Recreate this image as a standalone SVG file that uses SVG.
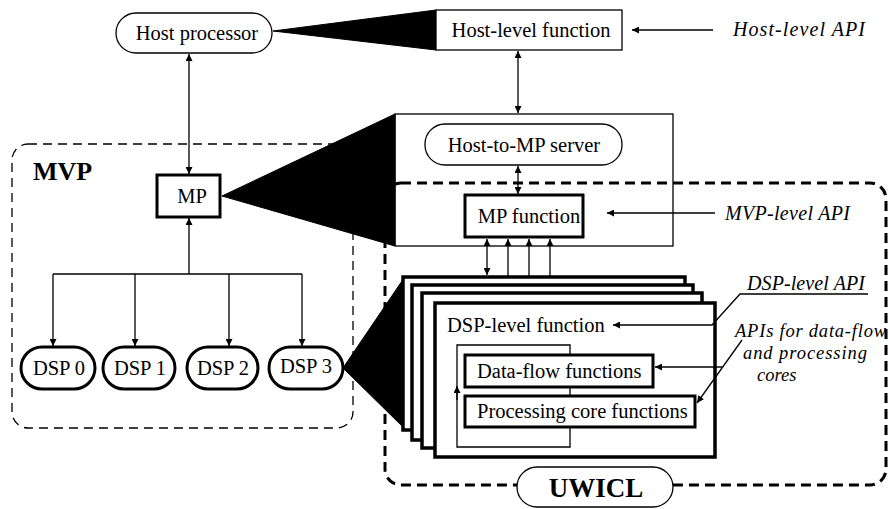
<svg xmlns="http://www.w3.org/2000/svg" width="889" height="509" viewBox="0 0 889 509">
<defs>
<marker id="ah" viewBox="0 0 10 10" refX="10" refY="5" markerWidth="9" markerHeight="7" markerUnits="userSpaceOnUse" orient="auto-start-reverse">
<path d="M0,0 L10,5 L0,10 z" fill="#000"/>
</marker>
<style>
text{font-family:"Liberation Serif","Times New Roman",serif;fill:#000}
.t{font-size:20.5px}
.c{text-anchor:middle}
.it{font-style:italic;font-size:20px}
.its{font-style:italic;font-size:18.5px}
.b{font-weight:bold;font-size:26px}
.thin{fill:#fff;stroke:#000;stroke-width:1.3}
.thick{fill:#fff;stroke:#000;stroke-width:3}
.stk{fill:#fff;stroke:#000;stroke-width:3.5}
.ln{fill:none;stroke:#000;stroke-width:1.3}
.lnh{fill:none;stroke:#000;stroke-width:1.3;marker-end:url(#ah)}
.lnd{fill:none;stroke:#000;stroke-width:1.3;marker-start:url(#ah);marker-end:url(#ah)}
.fan{fill:#000;stroke:#000;stroke-width:1}
</style>
</defs>

<g id="regions">
<rect id="uwicl-region" x="385" y="183" width="501" height="302" rx="16" fill="none" stroke="#000" stroke-width="3" stroke-dasharray="10 6"/>
<rect id="mvp-region" x="12" y="144" width="341" height="284" rx="16" fill="none" stroke="#000" stroke-width="1.3" stroke-dasharray="9 6"/>
</g>

<g id="expansions">
<polygon class="fan" points="273,31 436,10 436,50"/>
<polygon class="fan" points="222,196 395,114 395,246"/>
<polygon class="fan" points="343,368 404,278 406,430"/>
</g>

<g id="connectors">
<line class="lnd" x1="189" y1="54" x2="189" y2="174"/>
<line class="lnh" x1="189" y1="274" x2="189" y2="218"/>
<path class="ln" d="M53,274 H302"/>
<line class="lnh" x1="53" y1="274" x2="53" y2="346"/>
<line class="lnh" x1="135" y1="274" x2="135" y2="346"/>
<line class="lnh" x1="229" y1="274" x2="229" y2="346"/>
<line class="lnh" x1="302" y1="274" x2="302" y2="346"/>
<line class="lnd" x1="518" y1="51" x2="518" y2="113"/>
<line class="lnd" x1="518" y1="166" x2="518" y2="194"/>
<line class="lnh" x1="713" y1="30" x2="632" y2="30"/>
<line class="lnh" x1="715" y1="213" x2="607" y2="213"/>
<line class="lnd" x1="487" y1="239" x2="487" y2="275"/>
<line class="lnd" x1="508" y1="239" x2="508" y2="283"/>
<line class="lnd" x1="529" y1="239" x2="529" y2="291"/>
<line class="lnd" x1="550" y1="239" x2="550" y2="301"/>
</g>

<g id="host-processor">
<rect class="thin" x="116" y="13" width="156" height="40" rx="20"/>
<text class="t c" x="197" y="40">Host processor</text>
</g>

<g id="host-level-function">
<rect class="thin" x="436" y="10" width="186" height="40"/>
<text class="t c" x="531" y="37">Host-level function</text>
</g>
<text class="it" x="733" y="36" textLength="132" lengthAdjust="spacing">Host-level API</text>

<g id="mvp-label"><text class="b" x="33" y="180">MVP</text></g>

<g id="mp">
<rect class="thick" x="157" y="175" width="63" height="42"/>
<text class="t c" x="192" y="203">MP</text>
</g>

<g id="dsp0"><rect class="thick" x="21" y="347" width="74" height="42" rx="21"/><text class="t c" x="59" y="375">DSP 0</text></g>
<g id="dsp1"><rect class="thick" x="103" y="347" width="72" height="42" rx="21"/><text class="t c" x="140" y="375">DSP 1</text></g>
<g id="dsp2"><rect class="thick" x="187" y="347" width="71" height="42" rx="21"/><text class="t c" x="223" y="375">DSP 2</text></g>
<g id="dsp3"><rect class="thick" x="269" y="347" width="74" height="42" rx="21"/><text class="t c" x="306" y="373">DSP 3</text></g>

<g id="mp-software">
<rect x="395" y="114" width="278" height="132" fill="none" stroke="#000" stroke-width="1.3"/>
</g>

<g id="host-to-mp-server">
<rect class="thin" x="425" y="124" width="197" height="41" rx="20"/>
<text class="t c" x="524" y="152">Host-to-MP server</text>
</g>

<g id="mp-function">
<rect class="thick" x="465" y="195" width="118" height="42"/>
<text class="t c" x="529" y="223">MP function</text>
</g>
<text class="it" x="725" y="220" textLength="125" lengthAdjust="spacing">MVP-level API</text>

<g id="dsp-stack">
<rect class="stk" x="403" y="277" width="282" height="153"/>
<rect class="stk" x="412" y="285" width="281" height="155"/>
<rect class="stk" x="422" y="293" width="280" height="155"/>
<rect class="stk" x="435" y="303" width="280" height="154"/>
</g>

<g id="dsp-level-function">
<text class="t" x="447" y="332">DSP-level function</text>
<path class="ln" d="M570,447 H457 V345 H570 Z"/>
<line class="lnh" x1="457" y1="400" x2="457" y2="386"/>
</g>

<g id="data-flow-functions">
<rect class="thick" x="465" y="355" width="188" height="32"/>
<text class="t" x="477" y="378">Data-flow functions</text>
</g>

<g id="processing-core-functions">
<rect class="thick" x="465" y="396" width="230" height="31"/>
<text class="t" x="477" y="418">Processing core functions</text>
</g>

<g id="api-leaders">
<path class="lnh" d="M868,294 H740 L712,325 H613"/>
<line class="lnh" x1="742" y1="340" x2="697" y2="403"/>
<line class="lnh" x1="722" y1="367" x2="655" y2="367"/>
</g>
<text class="it" x="747" y="290" textLength="118" lengthAdjust="spacing">DSP-level API</text>
<text class="its" x="735" y="337" textLength="151" lengthAdjust="spacing">APIs for data-flow</text>
<text class="its" x="743" y="359" textLength="124" lengthAdjust="spacing">and processing</text>
<text class="its" x="757" y="381">cores</text>

<g id="uwicl-label">
<rect class="thin" x="517" y="467" width="156" height="40" rx="20"/>
<text class="b c" x="596" y="497" style="font-size:27px">UWICL</text>
</g>
</svg>
